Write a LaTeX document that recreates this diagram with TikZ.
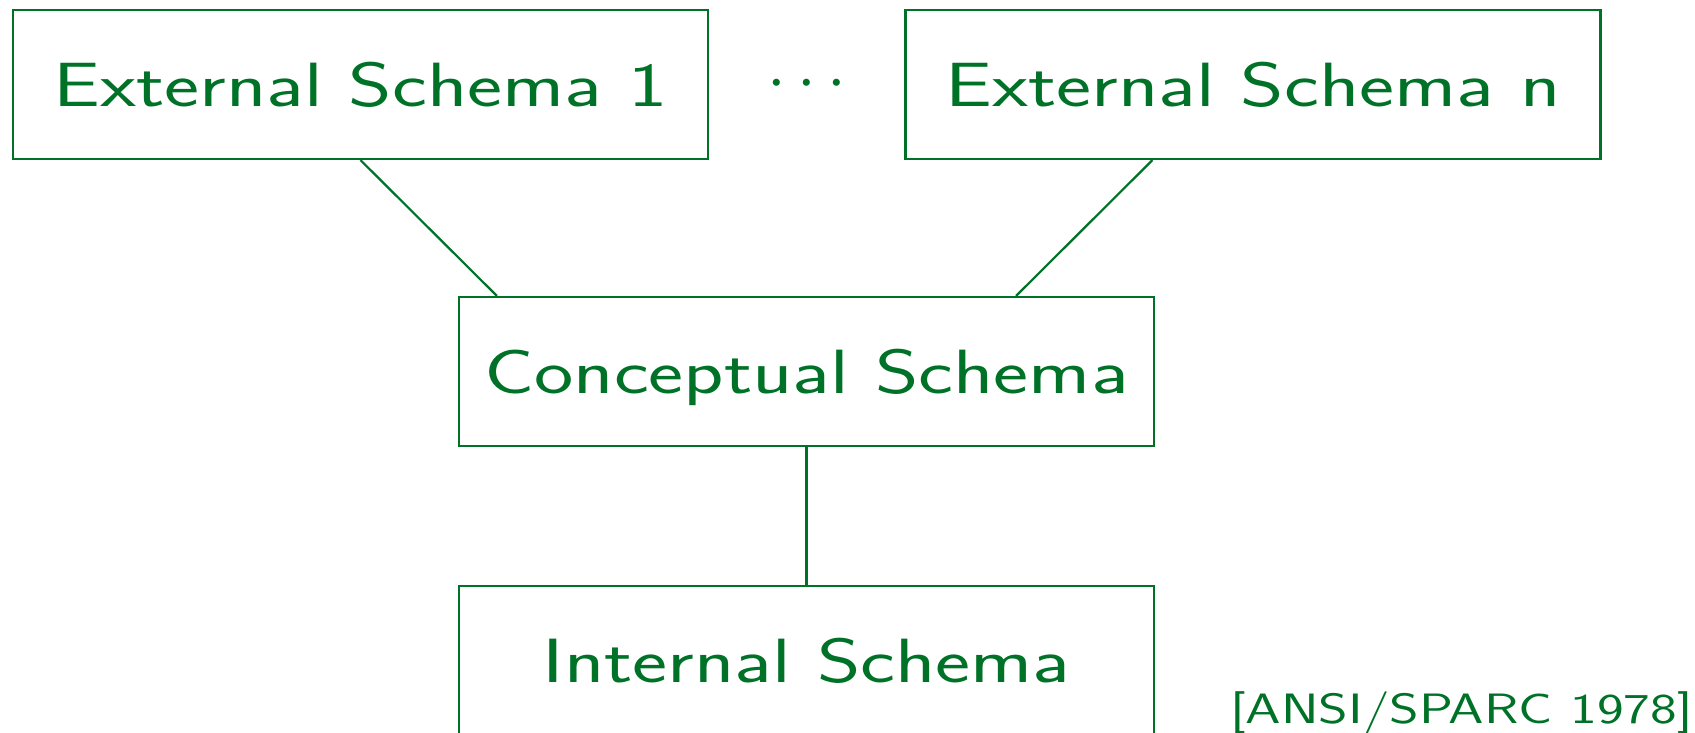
\documentclass[tikz,border=0pt]{standalone}
\usepackage{fontspec}
\newfontfamily\slidefont{Latin Modern Sans}[FakeStretch=1.335]
\usetikzlibrary{calc}
\definecolor{schemagreen}{RGB}{0,114,40}
\begin{document}
\begin{tikzpicture}[x=1pt,y=-1pt,
  schemabox/.style={draw=schemagreen, line width=2.2pt,
    minimum width=695pt, minimum height=149pt, inner sep=0pt,
    text=schemagreen, font=\slidefont\fontsize{62.5}{75}\selectfont,
    text height=43.4pt, text depth=0pt},
  link/.style={draw=schemagreen, line width=2.2pt}]
\useasboundingbox (0,0) rectangle (1695,732);

% the three levels of the architecture
\node[schemabox] (e1) at (360.5,84.5) {External Schema 1};
\node[schemabox] (en) at (1253,84.5) {External Schema n};
\node[schemabox] (c)  at (806.5,371.5) {Conceptual Schema};
\node[schemabox] (i)  at (806.5,660.5) {Internal Schema};

% ellipsis between the external schemas
\node[text=schemagreen, anchor=base, inner sep=0pt] (dots) at (807,99.6)
      {\scalebox{6.7}{$\cdots$}};

% mappings between the levels
\draw[link] (e1.south) -- ([xshift=39pt]c.north west);
\draw[link] ([xshift=248pt]en.south west) -- ([xshift=-139pt]c.north east);
\draw[link] (c.south) -- (i.north);

% source
\node[text=schemagreen, font=\slidefont\fontsize{42.5}{50}\selectfont,
      anchor=base east, inner sep=0pt] (src) at (1693,723) {[ANSI/SPARC 1978]};
\end{tikzpicture}
\end{document}
